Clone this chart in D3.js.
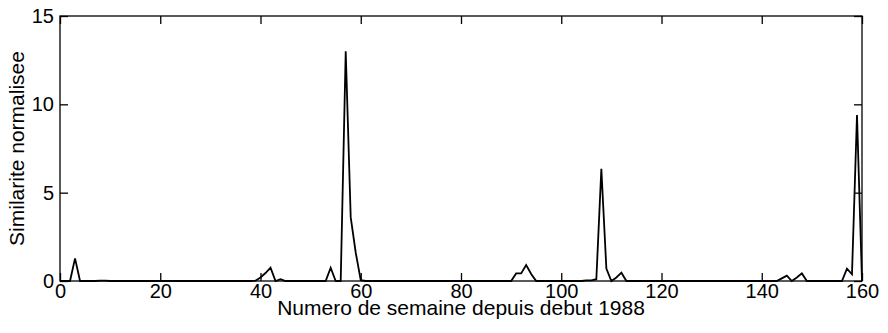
<!DOCTYPE html>
<html>
<head>
<meta charset="utf-8">
<script src="https://cdn.jsdelivr.net/npm/d3@7"></script>
<style>
  body { margin: 0; background: #fff; }
  svg text { font-family: "Liberation Sans", Arial, Helvetica, sans-serif; fill: #000; }
</style>
</head>
<body>
<svg id="chart" width="888" height="333"></svg>
<script>
"use strict";
// similarite normalisee, une valeur par semaine (0..160)
var similarite = [
  0, 0, 0, 1.28, 0, 0, 0, 0, 0.02, 0.02,          // 0-9
  0, 0, 0, 0, 0, 0, 0, 0, 0, 0,                   // 10-19
  0, 0, 0, 0, 0, 0, 0, 0, 0, 0,                   // 20-29
  0, 0, 0, 0, 0, 0, 0, 0, 0, 0.02,                // 30-39
  0.2, 0.45, 0.75, 0, 0.1, 0, 0, 0, 0, 0,         // 40-49
  0, 0, 0, 0, 0.75, 0, 0, 13.0, 3.6, 1.6,         // 50-59
  0.05, 0, 0, 0, 0, 0, 0, 0, 0, 0,                // 60-69
  0, 0, 0, 0, 0, 0, 0, 0, 0, 0,                   // 70-79
  0, 0, 0, 0, 0, 0, 0, 0, 0, 0,                   // 80-89
  0, 0.43, 0.43, 0.9, 0.4, 0, 0, 0, 0, 0,         // 90-99
  0, 0, 0, 0, 0, 0.03, 0.03, 0.1, 6.35, 0.7,      // 100-109
  0, 0.2, 0.47, 0, 0, 0, 0, 0, 0, 0,              // 110-119
  0, 0, 0, 0, 0, 0, 0, 0, 0, 0,                   // 120-129
  0, 0, 0, 0, 0, 0, 0, 0, 0, 0,                   // 130-139
  0, 0, 0, 0, 0.15, 0.3, 0, 0.2, 0.43, 0,         // 140-149
  0, 0, 0, 0, 0, 0, 0, 0.7, 0.38, 9.4,            // 150-159
  0                                               // 160
];
var semaines = d3.range(0, similarite.length);
var xTicks = [0, 20, 40, 60, 80, 100, 120, 140, 160];
var yTicks = [0, 5, 10, 15];

var svg = d3.select("#chart");
var pLeft = 60, pRight = 862, pTop = 16, pBottom = 281;
var tickLen = 8;

var x = d3.scaleLinear().domain([0, 160]).range([pLeft, pRight]);
var y = d3.scaleLinear().domain([0, 15]).range([pBottom, pTop]);

// cadre
svg.append("rect")
    .attr("x", pLeft).attr("y", pTop)
    .attr("width", pRight - pLeft).attr("height", pBottom - pTop)
    .style("fill", "none").style("stroke", "black").style("stroke-width", 1.3);

// axes (ticks vers l'interieur, comme matlab)
var xAxis = svg.append("g").attr("transform", "translate(0," + pBottom + ")")
    .call(d3.axisBottom(x).tickValues(xTicks).tickSizeInner(-tickLen).tickSizeOuter(0).tickPadding(3));
var xTop = svg.append("g").attr("transform", "translate(0," + pTop + ")")
    .call(d3.axisTop(x).tickValues(xTicks).tickSizeInner(-tickLen).tickSizeOuter(0).tickFormat(""));
var yAxis = svg.append("g").attr("transform", "translate(" + pLeft + ",0)")
    .call(d3.axisLeft(y).tickValues(yTicks).tickSizeInner(-tickLen).tickSizeOuter(0).tickPadding(6));
var yRight = svg.append("g").attr("transform", "translate(" + pRight + ",0)")
    .call(d3.axisRight(y).tickValues(yTicks).tickSizeInner(-tickLen).tickSizeOuter(0).tickFormat(""));

[xAxis, xTop, yAxis, yRight].forEach(function (g) {
    g.select(".domain").remove();
    g.selectAll(".tick line").style("stroke", "black").style("stroke-width", 1.3);
    g.selectAll(".tick text").style("font-size", "20px").style("fill", "black");
});

// courbe
var line = d3.line()
    .x(function (d, i) { return x(semaines[i]); })
    .y(function (d) { return y(d); });

svg.append("path")
    .datum(similarite)
    .attr("d", line)
    .style("fill", "none")
    .style("stroke", "black")
    .style("stroke-width", 1.8)
    .style("stroke-linejoin", "miter");

// titres des axes
svg.append("text")
    .attr("x", (pLeft + pRight) / 2)
    .attr("y", 315)
    .attr("text-anchor", "middle")
    .style("font-size", "21px")
    .text("Numero de semaine depuis debut 1988");

svg.append("text")
    .attr("transform", "translate(24," + ((pTop + pBottom) / 2) + ") rotate(-90)")
    .attr("text-anchor", "middle")
    .style("font-size", "21px")
    .text("Similarite normalisee");
</script>
</body>
</html>
